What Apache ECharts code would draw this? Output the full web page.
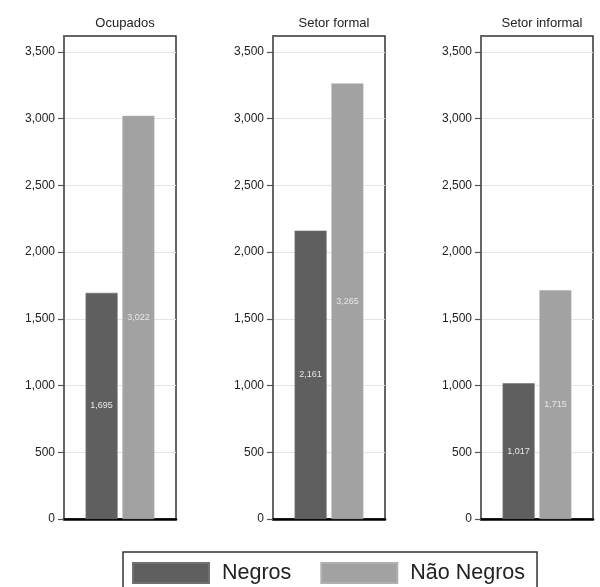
<!DOCTYPE html>
<html>
<head>
<meta charset="utf-8">
<script src="https://cdn.jsdelivr.net/npm/echarts@6/dist/echarts.min.js"></script>
<style>
  html, body { margin: 0; padding: 0; background: #fff; }
  #chart { width: 600px; height: 587px; }
</style>
</head>
<body>
<div id="chart"></div>
<script>
// Panels (one per labour-market segment) and their two bars
const panels = ['Ocupados', 'Setor formal', 'Setor informal'];
const seriesNames = ['Negros', 'Não Negros'];
const negros = [1695, 2161, 1017];
const naoNegros = [3022, 3265, 1715];
const yTicks = [0, 500, 1000, 1500, 2000, 2500, 3000, 3500];

const colors = ['#5f5f5f', '#a2a2a2'];
const font = '"Liberation Sans", Arial, sans-serif';
const fmt = v => Number(v).toLocaleString('en-US');

// Layout of the three small plot boxes
const gridLefts = [64, 273, 481];
const gridWidth = 112;
const gridTop = 36;
const gridHeight = 483;
const yMax = 3620; // box extends a little above the 3,500 line

const grids = [], xAxes = [], yAxes = [], titles = [], series = [];
panels.forEach((name, i) => {
  grids.push({
    left: gridLefts[i], top: gridTop, width: gridWidth, height: gridHeight,
    show: true, borderColor: '#333', borderWidth: 1.5, backgroundColor: '#fff'
  });
  titles.push({
    text: name,
    left: gridLefts[i] + gridWidth / 2, top: 12, textAlign: 'center',
    textStyle: { fontFamily: font, fontSize: 13, fontWeight: 'normal', color: '#222' }
  });
  xAxes.push({
    type: 'category', gridIndex: i, data: [name],
    axisLabel: { show: false }, axisTick: { show: false },
    axisLine: { lineStyle: { color: '#000', width: 2.5 } }
  });
  yAxes.push({
    type: 'value', gridIndex: i, min: 0, max: yMax,
    axisLine: { show: true, lineStyle: { color: '#666', width: 2 } },
    axisTick: { show: true, length: 6, lineStyle: { color: '#555', width: 1.2 }, customValues: yTicks },
    axisLabel: {
      customValues: yTicks, formatter: fmt, margin: 9,
      fontFamily: font, fontSize: 12, color: '#222'
    },
    splitLine: { show: true, lineStyle: { color: '#e4e4e4', width: 1 } }
  });
  [negros, naoNegros].forEach((vals, s) => {
    series.push({
      name: seriesNames[s], type: 'bar',
      xAxisIndex: i, yAxisIndex: i,
      data: [vals[i]],
      barWidth: 32, barGap: '15%',
      itemStyle: { color: colors[s], borderColor: s === 0 ? '#707070' : '#b0b0b0', borderWidth: 0.6 },
      label: {
        show: true, position: 'inside', formatter: p => fmt(p.value),
        fontFamily: font, fontSize: 9, color: '#e6e6e6'
      },
      emphasis: { disabled: true }
    });
  });
});

const chart = echarts.init(document.getElementById('chart'), null, { renderer: 'canvas' });
chart.setOption({
  animation: false,
  backgroundColor: '#fff',
  title: titles,
  grid: grids,
  xAxis: xAxes,
  yAxis: yAxes,
  legend: {
    data: seriesNames,
    left: 123, top: 552,
    orient: 'horizontal',
    icon: 'rect',
    itemWidth: 76, itemHeight: 20, itemGap: 29,
    padding: [10, 12, 10, 9],
    borderColor: '#333', borderWidth: 1.5,
    textStyle: { fontFamily: font, fontSize: 21.5, color: '#222', padding: [0, 0, 0, 8] }
  },
  series: series
});
</script>
</body>
</html>
